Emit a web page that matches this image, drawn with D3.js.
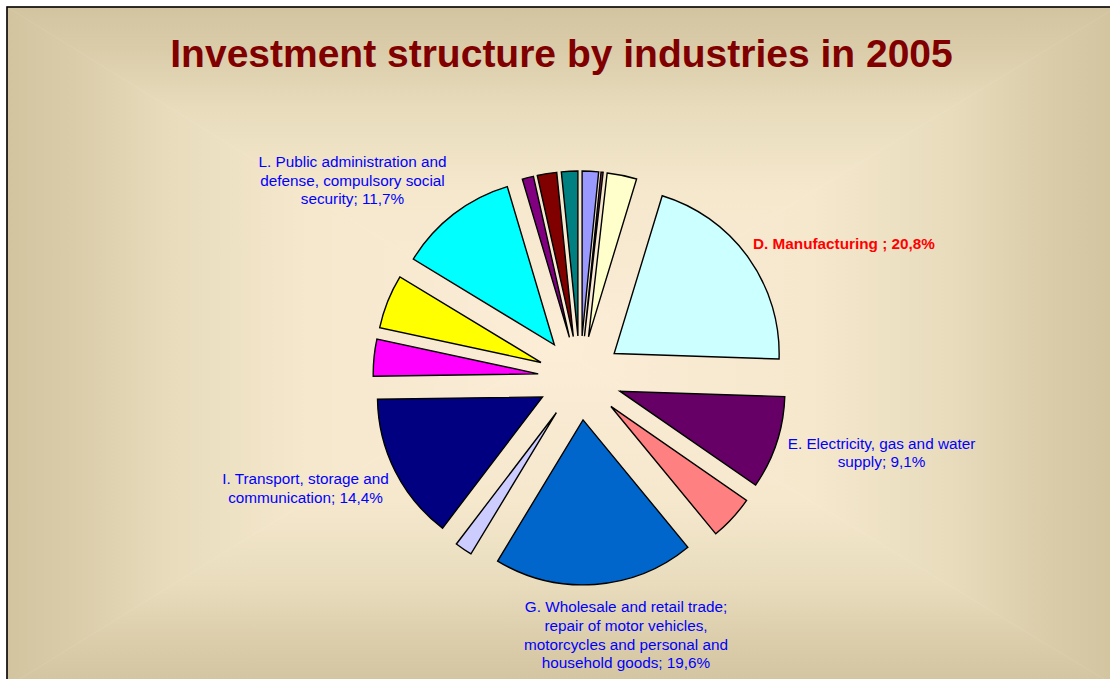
<!DOCTYPE html>
<html>
<head>
<meta charset="utf-8">
<script src="https://cdn.jsdelivr.net/npm/d3@7"></script>
<style>
  html, body { margin: 0; padding: 0; background: #ffffff; }
  svg { display: block; font-family: Arial, "Liberation Sans", sans-serif; }
</style>
</head>
<body>
<svg id="chart" width="1110" height="679"></svg>
<script>
// Investment by NACE section, 2005 (share of total, %)
const sections = ["A", "B", "C", "D", "E", "F", "G", "H", "I", "J", "K", "L", "M", "N", "O"];
const shares = [1.6, 0.2, 2.9, 20.8, 9.1, 4.4, 19.6, 1.7, 14.4, 3.6, 5.3, 11.7, 1.1, 1.9, 1.6];
const fills = ["#9999FF", "#993366", "#FFFFCC", "#CCFFFF", "#660066", "#FF8080", "#0066CC",
               "#CCCCFF", "#000080", "#FF00FF", "#FFFF00", "#00FFFF", "#800080", "#800000", "#008080"];

// Slices that carry a data label, with their line breaks ({v} = share)
const labelText = {
  D: ["D. Manufacturing ; {v}"],
  E: ["E. Electricity, gas and water", "supply; {v}"],
  G: ["G. Wholesale and retail trade;", "repair of motor vehicles,", "motorcycles and personal and", "household goods; {v}"],
  I: ["I. Transport, storage and", "communication; {v}"],
  L: ["L. Public administration and", "defense, compulsory social", "security; {v}"]
};

const title = "Investment structure by industries in 2005";

// ---- layout ----
const frame = { x: 7, y: 7, w: 1110, h: 680 };
const cx = 580, cy = 378, R = 165, explode = 42;
const labelPos = {
  D: { x: 753, y: 248.5, anchor: "start", color: "#FF0000", weight: "bold" },
  E: { x: 881.5, y: 448.5, anchor: "middle", color: "#0000FF", weight: "normal" },
  G: { x: 626, y: 612, anchor: "middle", color: "#0000FF", weight: "normal" },
  I: { x: 305.5, y: 484, anchor: "middle", color: "#0000FF", weight: "normal" },
  L: { x: 352.5, y: 166.7, anchor: "middle", color: "#0000FF", weight: "normal" }
};
const lineH = 18.8;

const svg = d3.select("#chart");
const defs = svg.append("defs");

// Rectangular "from centre" background gradient built from four triangles
const gradStops = [
  [0, "#d2c49f"], [0.12, "#dacca9"], [0.3, "#e8dcbd"], [0.55, "#f5e8cd"], [1, "#fcedd7"]
];
const gx = frame.x + frame.w / 2 - 5, gy = frame.y + frame.h / 2;
const x0 = frame.x, x1 = frame.x + frame.w, y0 = frame.y, y1 = frame.y + frame.h;
const tris = [
  { id: "gTop", pts: [[x0, y0], [x1, y0], [gx, gy]], g: [0, y0, 0, gy] },
  { id: "gBot", pts: [[x0, y1], [x1, y1], [gx, gy]], g: [0, y1, 0, gy] },
  { id: "gLeft", pts: [[x0, y0], [x0, y1], [gx, gy]], g: [x0, 0, gx, 0] },
  { id: "gRight", pts: [[x1, y0], [x1, y1], [gx, gy]], g: [x1, 0, gx, 0] }
];
tris.forEach(t => {
  const lg = defs.append("linearGradient").attr("id", t.id)
    .attr("gradientUnits", "userSpaceOnUse")
    .attr("x1", t.g[0]).attr("y1", t.g[1]).attr("x2", t.g[2]).attr("y2", t.g[3]);
  gradStops.forEach(s => lg.append("stop").attr("offset", s[0]).attr("stop-color", s[1]));
});
const bg = svg.append("g");
tris.forEach(t => {
  bg.append("polygon")
    .attr("points", t.pts.map(p => p.join(",")).join(" "))
    .attr("fill", `url(#${t.id})`)
    .attr("stroke", `url(#${t.id})`).attr("stroke-width", 0.6);
});
svg.append("rect")
  .attr("x", frame.x).attr("y", frame.y).attr("width", frame.w).attr("height", frame.h)
  .attr("fill", "none").attr("stroke", "#000").attr("stroke-width", 1.6);

// Title
svg.append("text")
  .attr("x", 561.5).attr("y", 67)
  .attr("text-anchor", "middle")
  .attr("font-size", 39).attr("font-weight", "bold")
  .attr("fill", "#800000")
  .text(title);

// Exploded pie, clockwise from 12 o'clock
const data = sections.map((s, i) => ({ key: s, value: shares[i], fill: fills[i] }));
const pie = d3.pie().sort(null).value(d => d.value).startAngle(0).endAngle(2 * Math.PI);
const arc = d3.arc().innerRadius(0).outerRadius(R);
const arcs = pie(data);

const g = svg.append("g").attr("transform", `translate(${cx},${cy})`);
g.selectAll("path.slice")
  .data(arcs)
  .join("path")
  .attr("class", "slice")
  .attr("transform", d => {
    const a = (d.startAngle + d.endAngle) / 2;
    return `translate(${explode * Math.sin(a)},${-explode * Math.cos(a)})`;
  })
  .attr("d", arc)
  .attr("fill", d => d.data.fill)
  .attr("stroke", "#000")
  .attr("stroke-width", 1.4)
  .attr("stroke-linejoin", "miter");

// Data labels
const fmt = v => v.toFixed(1).replace(".", ",") + "%";
Object.keys(labelText).forEach(k => {
  const i = sections.indexOf(k);
  const p = labelPos[k];
  const t = svg.append("text")
    .attr("text-anchor", p.anchor)
    .attr("font-size", 15.3)
    .attr("font-weight", p.weight)
    .attr("fill", p.color);
  labelText[k].forEach((ln, j) => {
    t.append("tspan")
      .attr("x", p.x).attr("y", p.y + j * lineH)
      .text(ln.replace("{v}", fmt(shares[i])));
  });
});
</script>
</body>
</html>
